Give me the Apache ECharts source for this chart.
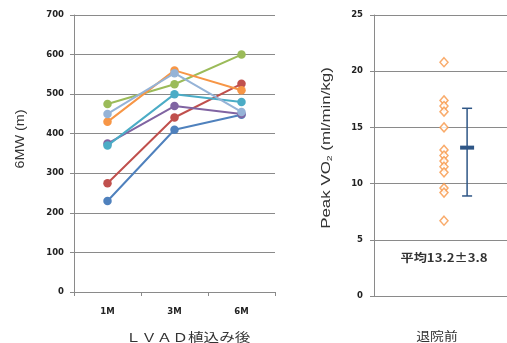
<!DOCTYPE html>
<html><head><meta charset="utf-8">
<script src="https://cdn.jsdelivr.net/npm/echarts@6/dist/echarts.min.js"></script>
<style>html,body{margin:0;padding:0;background:#fff}#c{width:507px;height:343px}</style>
</head><body><div id="c"></div>
<script>
// ---- data ----
const months = ['1M', '3M', '6M'];
const patientBlue   = [230, 410, 448];
const patientRed    = [275, 441, 526];
const patientGreen  = [475, 525, 600];
const patientPurple = [375, 470, 450];
const patientAqua   = [370, 500, 480];
const patientOrange = [430, 560, 510];
const patientLtBlue = [450, 553, 455];
const leftTicks = [0, 100, 200, 300, 400, 500, 600, 700];

const vo2Values = [20.8, 17.4, 16.9, 16.4, 15.0, 13.0, 12.5, 12.0, 11.5, 11.0, 9.6, 9.2, 6.7];
const vo2Mean = 13.2;
const vo2SD = 3.8;
const vo2Low = 8.9;
const vo2High = 16.7;
const vo2Category = '退院前';
const pointsX = 1;      // x position of individual points
const summaryX = 1.33;  // x position of mean ± SD
const rightTicks = [0, 5, 10, 15, 20, 25];

const leftXTitle = 'ＬＶＡＤ植込み後';
const leftYTitle = '6MW (m)';

const seriesColors = ['#4F81BD', '#C0504D', '#9BBB59', '#8064A2', '#4BACC6', '#F79646', '#95B3D7'];
const lineData = [patientBlue, patientRed, patientGreen, patientPurple, patientAqua, patientOrange, patientLtBlue];

const chart = echarts.init(document.getElementById('c'), null, {renderer: 'canvas'});
const axisGray = '#8a8a8a';
const tickFont = {fontFamily: 'DejaVu Sans', fontWeight: 'bold', fontSize: 8.5, color: '#222'};

const series = lineData.map((d, i) => ({
  type: 'line', xAxisIndex: 0, yAxisIndex: 0, data: d,
  symbol: 'circle', symbolSize: 8.5,
  lineStyle: {width: 2, color: seriesColors[i]},
  itemStyle: {color: seriesColors[i]},
  z: 3 + i
}));

series.push({
  type: 'scatter', xAxisIndex: 1, yAxisIndex: 1,
  data: vo2Values.map(v => [pointsX, v]),
  symbol: 'diamond', symbolSize: [8, 9],
  itemStyle: {color: '#fff', borderColor: '#F79646', borderWidth: 1.5}
});
series.push({
  type: 'custom', xAxisIndex: 1, yAxisIndex: 1,
  data: [[summaryX, vo2Mean, vo2Low, vo2High]],
  renderItem: function (params, api) {
    const x = api.value(0);
    const c = api.coord([x, api.value(1)]);
    const lo = api.coord([x, api.value(2)]);
    const hi = api.coord([x, api.value(3)]);
    const st = {stroke: '#2E5686', lineWidth: 1.5};
    return {type: 'group', children: [
      {type: 'line', shape: {x1: c[0], y1: lo[1], x2: c[0], y2: hi[1]}, style: st},
      {type: 'line', shape: {x1: c[0] - 5, y1: lo[1], x2: c[0] + 5, y2: lo[1]}, style: st},
      {type: 'line', shape: {x1: c[0] - 5, y1: hi[1], x2: c[0] + 5, y2: hi[1]}, style: st},
      {type: 'rect', shape: {x: c[0] - 7, y: c[1] - 2, width: 14, height: 4}, style: {fill: '#2E5686'}}
    ]};
  }
});

chart.setOption({
  animation: false,
  grid: [
    {left: 74, right: 232, top: 15, bottom: 51},
    {left: 374, right: 0, top: 15, bottom: 47}
  ],
  xAxis: [
    {type: 'category', gridIndex: 0, data: months, boundaryGap: true,
     axisLine: {lineStyle: {color: axisGray}},
     axisTick: {show: true, interval: 0, length: 4, lineStyle: {color: axisGray}},
     axisLabel: Object.assign({margin: 15}, tickFont)},
    {type: 'value', gridIndex: 1, min: 0, max: 1.9,
     axisLine: {show: true, onZero: false, lineStyle: {color: axisGray}},
     axisTick: {show: false}, axisLabel: {show: false}, splitLine: {show: false}}
  ],
  yAxis: [
    {type: 'value', gridIndex: 0, min: leftTicks[0], max: leftTicks[leftTicks.length - 1], interval: 100,
     axisLine: {show: true, lineStyle: {color: axisGray}},
     axisTick: {show: true, length: 4, lineStyle: {color: axisGray}},
     splitLine: {lineStyle: {color: axisGray, width: 1}},
     axisLabel: Object.assign({margin: 10}, tickFont)},
    {type: 'value', gridIndex: 1, min: rightTicks[0], max: rightTicks[rightTicks.length - 1], interval: 5,
     axisLine: {show: true, lineStyle: {color: axisGray}},
     axisTick: {show: true, length: 4, lineStyle: {color: axisGray}},
     splitLine: {lineStyle: {color: axisGray, width: 1}},
     axisLabel: Object.assign({margin: 11}, tickFont)}
  ],
  graphic: [
    {type: 'text', x: 21, y: 139, rotation: Math.PI / 2, scaleX: 1.2,
     style: {text: leftYTitle, fontFamily: 'Liberation Sans, Arial', fontSize: 12, fill: '#333', align: 'center', verticalAlign: 'middle'}},
    {type: 'text', x: 188, y: 337, scaleX: 1.3,
     style: {text: leftXTitle, fontFamily: 'Noto Sans CJK JP', fontSize: 12, fill: '#333', align: 'center', verticalAlign: 'middle'}},
    {type: 'text', x: 326, y: 148, rotation: Math.PI / 2, scaleX: 1.3,
     style: {rich: {n: {fontFamily: 'Liberation Sans, Arial', fontSize: 13, fill: '#333'},
                    s: {fontFamily: 'Liberation Sans, Arial', fontSize: 8, fill: '#333', verticalAlign: 'bottom', padding: [7, 0, 0, 0]}},
            text: '{n|Peak VO}{s|2}{n| (ml/min/kg)}', align: 'center', verticalAlign: 'middle', fill: '#333'}},
    {type: 'text', x: 444, y: 258, scaleX: 1.2,
     style: {text: '平均' + vo2Mean.toFixed(1) + '±' + vo2SD.toFixed(1), fontFamily: 'Noto Sans CJK JP', fontSize: 11, fontWeight: 'bold', fill: '#333', align: 'center', verticalAlign: 'middle'}},
    {type: 'text', x: 437, y: 336, scaleX: 1.15,
     style: {text: vo2Category, fontFamily: 'Noto Sans CJK JP', fontSize: 12, fill: '#333', align: 'center', verticalAlign: 'middle'}}
  ],
  series: series
});
</script></body></html>
